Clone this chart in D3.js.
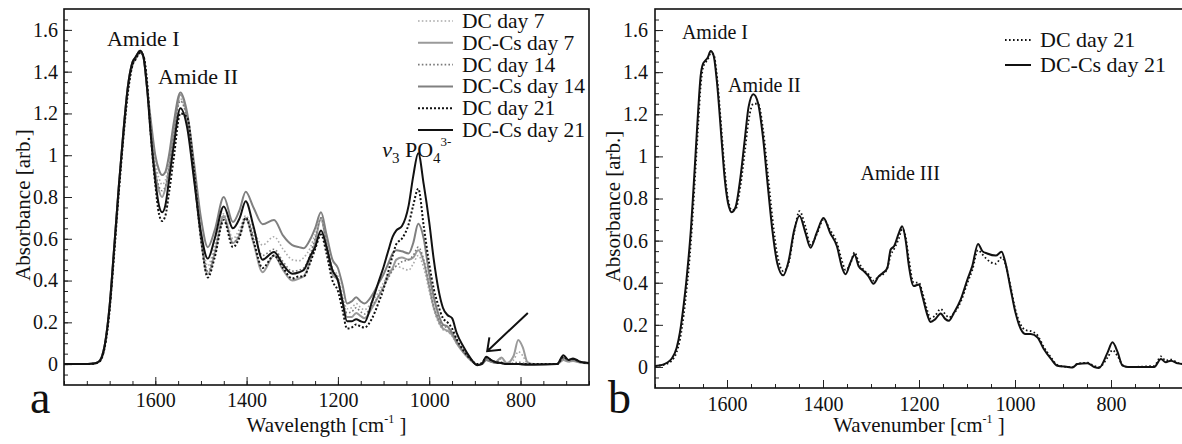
<!DOCTYPE html>
<html>
<head>
<meta charset="utf-8">
<script src="https://cdn.jsdelivr.net/npm/d3@7"></script>
<style>
  body { margin: 0; background: #fff; }
  svg text { font-family: "Liberation Serif", "Times New Roman", serif !important; }
</style>
</head>
<body>
<div id="vis"></div>
<script>
// ---- panel a: six spectra ----
const wavenumbersA = [1800, 1760, 1735, 1725, 1718, 1710, 1700, 1690, 1680, 1670, 1660, 1650, 1643, 1633, 1626, 1618,
  1610, 1600, 1592, 1585, 1578, 1570, 1560, 1545, 1530, 1515, 1500, 1485, 1470, 1450, 1430, 1415, 1402, 1385, 1365, 1340,
  1320, 1300, 1285, 1275, 1260, 1250, 1237, 1225, 1212, 1200, 1190, 1180, 1170, 1160, 1150, 1142, 1125, 1110, 1100, 1090,
  1080, 1072, 1060, 1045, 1035, 1024, 1012, 1000, 990, 980, 970, 960, 950, 940, 925, 910, 895, 885, 875, 865, 855, 842,
  830, 815, 805, 795, 785, 770, 720, 706, 695, 685, 670, 650];

const risingSolid = [0, 0, 0.003, 0.01, 0.03, 0.10, 0.28, 0.56, 0.85, 1.11, 1.33, 1.445, 1.47, 1.50, 1.47, 1.32];
const risingDotted = [0, 0, 0.002, 0.008, 0.025, 0.09, 0.26, 0.53, 0.82, 1.08, 1.30, 1.43, 1.46, 1.49, 1.475, 1.35];

const dcDay7 = risingDotted.concat([1.14, 0.97, 0.89, 0.86, 0.88, 0.97, 1.12, 1.27, 1.17, 0.91,
  0.63, 0.47, 0.57, 0.72, 0.60, 0.65, 0.71, 0.64, 0.57, 0.61, 0.55, 0.50, 0.495, 0.51, 0.56, 0.62, 0.69, 0.58, 0.46, 0.42,
  0.33, 0.265, 0.27, 0.29, 0.27, 0.26, 0.30, 0.35, 0.39, 0.43, 0.46, 0.47, 0.46, 0.45, 0.48, 0.52, 0.46, 0.35, 0.26, 0.20,
  0.165, 0.155, 0.135, 0.10, 0.055, 0.02, 0, 0, 0.02, 0.012, 0.008, 0.025, 0.005, 0.02, 0.06, 0.04, 0.005, 0, 0, 0.02,
  0.012, 0.015, 0.008, 0.003]);
const dcCsDay7 = risingSolid.concat([1.12, 0.92, 0.83, 0.80, 0.84, 0.93, 1.10, 1.29, 1.18, 0.90,
  0.60, 0.43, 0.53, 0.71, 0.58, 0.62, 0.70, 0.58, 0.44, 0.52, 0.45, 0.40, 0.41, 0.42, 0.50, 0.58, 0.70, 0.57, 0.43, 0.40,
  0.30, 0.225, 0.225, 0.245, 0.23, 0.22, 0.27, 0.33, 0.37, 0.42, 0.46, 0.50, 0.51, 0.50, 0.51, 0.545, 0.49, 0.37, 0.27, 0.21,
  0.17, 0.16, 0.14, 0.10, 0.055, 0.02, -0.003, 0, 0.02, 0.012, 0.01, 0.032, 0.005, 0.04, 0.115, 0.08, 0.01, 0, 0, 0.02,
  0.012, 0.015, 0.008, 0.003]);
const dcDay14 = risingDotted.concat([1.12, 0.93, 0.85, 0.83, 0.85, 0.94, 1.10, 1.26, 1.16, 0.89,
  0.61, 0.445, 0.54, 0.70, 0.58, 0.63, 0.70, 0.62, 0.52, 0.55, 0.49, 0.445, 0.45, 0.46, 0.53, 0.60, 0.70, 0.58, 0.45, 0.41,
  0.31, 0.245, 0.25, 0.27, 0.25, 0.24, 0.28, 0.33, 0.37, 0.41, 0.45, 0.47, 0.49, 0.50, 0.52, 0.56, 0.50, 0.38, 0.28, 0.22,
  0.18, 0.175, 0.15, 0.11, 0.06, 0.025, 0, 0, 0.02, 0.015, 0.01, 0.01, 0, 0.005, 0.01, 0.005, 0, 0, 0, 0.025,
  0.015, 0.02, 0.01, 0.005]);
const dcCsDay14 = risingSolid.concat([1.17, 1.00, 0.93, 0.905, 0.92, 1.00, 1.15, 1.30, 1.20, 0.96,
  0.70, 0.56, 0.64, 0.80, 0.68, 0.74, 0.825, 0.75, 0.67, 0.69, 0.615, 0.57, 0.56, 0.555, 0.60, 0.65, 0.727, 0.62, 0.50, 0.46,
  0.38, 0.29, 0.30, 0.32, 0.30, 0.29, 0.33, 0.39, 0.43, 0.48, 0.53, 0.545, 0.54, 0.53, 0.58, 0.672, 0.60, 0.43, 0.32, 0.24,
  0.19, 0.18, 0.15, 0.11, 0.06, 0.025, -0.003, 0, 0.02, 0.012, 0.005, 0.005, 0, 0, 0, 0, 0, 0, 0, 0.03,
  0.02, 0.02, 0.01, 0.005]);
const dcDay21 = risingDotted.concat([1.10, 0.86, 0.72, 0.685, 0.71, 0.82, 0.98, 1.20, 1.18, 0.92,
  0.60, 0.415, 0.51, 0.69, 0.56, 0.61, 0.70, 0.59, 0.46, 0.52, 0.46, 0.41, 0.42, 0.42, 0.49, 0.55, 0.62, 0.53, 0.40, 0.35,
  0.26, 0.17, 0.175, 0.19, 0.18, 0.175, 0.22, 0.30, 0.36, 0.44, 0.52, 0.575, 0.60, 0.67, 0.76, 0.84, 0.66, 0.48, 0.36, 0.28,
  0.22, 0.20, 0.17, 0.12, 0.065, 0.025, 0, 0.005, 0.03, 0.02, 0.01, 0.005, 0, 0, 0, 0, 0, 0, 0, 0.035,
  0.02, 0.025, 0.012, 0.005]);
const dcCsDay21 = risingSolid.concat([1.10, 0.88, 0.76, 0.727, 0.76, 0.88, 1.04, 1.225, 1.13, 0.88,
  0.63, 0.505, 0.60, 0.755, 0.65, 0.70, 0.78, 0.66, 0.50, 0.537, 0.475, 0.433, 0.44, 0.45, 0.52, 0.56, 0.64, 0.56, 0.45, 0.40,
  0.30, 0.205, 0.205, 0.215, 0.205, 0.20, 0.30, 0.40, 0.465, 0.54, 0.61, 0.64, 0.66, 0.76, 0.90, 1.01, 0.86, 0.68, 0.50, 0.36,
  0.27, 0.235, 0.22, 0.15, 0.083, 0.03, -0.005, 0, 0.035, 0.02, 0.01, 0.005, 0, 0, 0, -0.002, -0.003, -0.003, 0, 0.043,
  0.02, 0.027, 0.012, 0.005]);

// ---- panel b: day 21 only ----
const wavenumbersB = [1750, 1735, 1725, 1715, 1705, 1698, 1690, 1685, 1680, 1675, 1670, 1665, 1660, 1655, 1650, 1645,
  1640, 1634, 1628, 1620, 1612, 1605, 1598, 1590, 1582, 1572, 1563, 1555, 1545, 1535, 1525, 1515, 1505, 1495, 1483, 1472,
  1460, 1449, 1437, 1426, 1413, 1399, 1385, 1371, 1360, 1353, 1343, 1334, 1326, 1315, 1305, 1295, 1284, 1275, 1266, 1259,
  1252, 1242, 1235, 1228, 1221, 1211, 1200, 1193, 1183, 1176, 1166, 1155, 1145, 1138, 1127, 1113, 1099, 1089, 1077, 1068,
  1058, 1040, 1028, 1020, 1009, 999, 988, 978, 967, 953, 940, 925, 912, 890, 880, 870, 849, 835, 825, 807, 797, 786, 776,
  765, 710, 696, 686, 675, 661, 650];
const dcCsDay21B = [0.005, 0.01, 0.02, 0.04, 0.09, 0.165, 0.30, 0.40, 0.52, 0.66,
  0.84, 1.03, 1.22, 1.38, 1.44, 1.455, 1.47, 1.50, 1.48, 1.33,
  1.10, 0.90, 0.78, 0.735, 0.76, 0.90, 1.08, 1.235, 1.295, 1.25,
  1.09, 0.86, 0.64, 0.49, 0.435, 0.50, 0.65, 0.718, 0.64, 0.566,
  0.638, 0.707, 0.636, 0.573, 0.47, 0.44, 0.495, 0.534, 0.479, 0.455,
  0.43, 0.395, 0.43, 0.447, 0.47, 0.558, 0.573, 0.636, 0.668, 0.605,
  0.479, 0.384, 0.392, 0.337, 0.25, 0.214, 0.227, 0.254, 0.227, 0.219,
  0.258, 0.321, 0.416, 0.479, 0.584, 0.55, 0.539, 0.529, 0.547, 0.495,
  0.369, 0.258, 0.18, 0.156, 0.156, 0.14, 0.085, 0.038, 0.006, 0.0,
  -0.003, 0.014, 0.017, 0.0, -0.005, 0.069, 0.117, 0.069, 0.006, 0.0,
  0.0, 0.038, 0.022, 0.03, 0.017, 0.014];
const dcDay21B = [0.005, 0.008, 0.015, 0.03, 0.07, 0.13, 0.25, 0.35, 0.46, 0.60,
  0.77, 0.96, 1.15, 1.33, 1.42, 1.445, 1.46, 1.49, 1.485, 1.36,
  1.14, 0.94, 0.80, 0.745, 0.75, 0.86, 1.02, 1.17, 1.25, 1.25,
  1.13, 0.92, 0.70, 0.53, 0.455, 0.49, 0.64, 0.74, 0.67, 0.58,
  0.63, 0.70, 0.65, 0.59, 0.50, 0.46, 0.49, 0.545, 0.50, 0.46,
  0.44, 0.41, 0.43, 0.44, 0.47, 0.53, 0.56, 0.61, 0.655, 0.62,
  0.51, 0.40, 0.40, 0.355, 0.27, 0.23, 0.245, 0.275, 0.25, 0.235,
  0.255, 0.31, 0.40, 0.46, 0.555, 0.535, 0.51, 0.49, 0.52, 0.49,
  0.38, 0.27, 0.20, 0.175, 0.17, 0.15, 0.095, 0.045, 0.01, 0.0,
  0.0, 0.015, 0.02, 0.005, 0.0, 0.045, 0.08, 0.05, 0.01, 0.0,
  0.005, 0.05, 0.03, 0.035, 0.02, 0.015];

// ticks
const xTicks = [1600, 1400, 1200, 1000, 800];
const yTicks = [0, 0.2, 0.4, 0.6, 0.8, 1, 1.2, 1.4, 1.6];
const yTickLabels = ["0", "0.2", "0.4", "0.6", "0.8", "1", "1.2", "1.4", "1.6"];

const seriesA = [
  { name: "DC day 7", values: dcDay7, color: "#aaaaaa", dash: "1.6,2.2", width: 1.6 },
  { name: "DC-Cs day 7", values: dcCsDay7, color: "#9a9a9a", dash: null, width: 2 },
  { name: "DC day 14", values: dcDay14, color: "#7a7a7a", dash: "1.6,2.2", width: 1.6 },
  { name: "DC-Cs day 14", values: dcCsDay14, color: "#808080", dash: null, width: 2 },
  { name: "DC day 21", values: dcDay21, color: "#111111", dash: "2,2", width: 2 },
  { name: "DC-Cs day 21", values: dcCsDay21, color: "#111111", dash: null, width: 2 }
];
const seriesB = [
  { name: "DC day 21", values: dcDay21B, color: "#111111", dash: "1.6,2.4", width: 1.8 },
  { name: "DC-Cs day 21", values: dcCsDay21B, color: "#111111", dash: null, width: 2 }
];

const svg = d3.select("#vis").append("svg")
  .attr("width", 1182)
  .attr("height", 444)
  .attr("font-family", "Liberation Serif");

function drawPanel(p) {
  const x = d3.scaleLinear().domain(p.xDomain).range([p.left, p.right]);
  const y = d3.scaleLinear().domain([-0.1, 1.7]).range([p.bottom, p.top]);
  const g = svg.append("g");

  const xMinor = d3.range(p.xDomain[1], p.xDomain[0] + 1, 50);
  const yMinor = d3.range(-0.05, 1.7, 0.05);

  // minor ticks (inward)
  g.append("g").attr("transform", "translate(0," + p.bottom + ")")
    .call(d3.axisBottom(x).tickValues(xMinor).tickSize(-4).tickFormat(""))
    .call(a => a.select(".domain").remove());
  g.append("g").attr("transform", "translate(" + p.left + ",0)")
    .call(d3.axisLeft(y).tickValues(yMinor).tickSize(-4).tickFormat(""))
    .call(a => a.select(".domain").remove());

  // major ticks with labels
  g.append("g").attr("transform", "translate(0," + p.bottom + ")")
    .call(d3.axisBottom(x).tickValues(xTicks).tickSize(-8).tickPadding(p.xPad).tickFormat(d3.format("d")))
    .call(a => a.select(".domain").remove())
    .call(a => a.selectAll("text").attr("font-size", 20).attr("fill", "#111"));
  g.append("g").attr("transform", "translate(" + p.left + ",0)")
    .call(d3.axisLeft(y).tickValues(yTicks).tickSize(-8).tickPadding(p.yPad).tickFormat((d, i) => yTickLabels[i]))
    .call(a => a.select(".domain").remove())
    .call(a => a.selectAll("text").attr("font-size", 20).attr("fill", "#111"));
  g.selectAll(".tick line").attr("stroke", "#222");

  // spectra
  const clipId = "clip" + p.id;
  svg.append("clipPath").attr("id", clipId).append("rect")
    .attr("x", p.left).attr("y", p.top)
    .attr("width", p.right - p.left).attr("height", p.bottom - p.top);

  const line = d3.line()
    .x((d, i) => x(p.wavenumbers[i]))
    .y(d => y(d))
    .curve(d3.curveMonotoneX);

  g.append("g").attr("clip-path", "url(#" + clipId + ")")
    .selectAll("path")
    .data(p.series)
    .enter().append("path")
    .attr("d", d => line(d.values))
    .attr("fill", "none")
    .attr("stroke", d => d.color)
    .attr("stroke-width", d => d.width)
    .attr("stroke-dasharray", d => d.dash)
    .attr("stroke-linejoin", "round");

  // frame
  g.append("rect")
    .attr("x", p.left).attr("y", p.top)
    .attr("width", p.right - p.left).attr("height", p.bottom - p.top)
    .attr("fill", "none").attr("stroke", "#111").attr("stroke-width", 1.6);

  // legend
  const leg = g.append("g");
  p.series.forEach((s, i) => {
    const by = p.legend.y + i * p.legend.step;
    leg.append("line")
      .attr("x1", p.legend.x1).attr("x2", p.legend.x2)
      .attr("y1", by - 7).attr("y2", by - 7)
      .attr("stroke", s.color).attr("stroke-width", s.width)
      .attr("stroke-dasharray", s.dash);
    leg.append("text")
      .attr("x", p.legend.x2 + 9).attr("y", by)
      .attr("font-size", p.legend.size).attr("fill", "#111")
      .text(s.name);
  });

  // peak annotations
  p.notes.forEach(n => {
    g.append("text")
      .attr("x", x(n.w)).attr("y", y(n.a))
      .attr("font-size", n.size).attr("fill", "#111")
      .text(n.text);
  });

  // axis titles and panel letter
  const xt = g.append("text")
    .attr("x", (p.left + p.right) / 2).attr("y", 432)
    .attr("text-anchor", "middle").attr("font-size", 21).attr("fill", "#111");
  xt.append("tspan").text(p.xTitle + " [cm");
  xt.append("tspan").attr("font-size", 12).attr("dy", -9).text("-1");
  xt.append("tspan").attr("dy", 9).text(" ]");

  g.append("text")
    .attr("transform", "translate(" + p.yTitleX + "," + ((p.top + p.bottom) / 2 + 8) + ") rotate(-90)")
    .attr("text-anchor", "middle").attr("font-size", 21).attr("fill", "#111")
    .text("Absorbance [arb.]");

  g.append("text")
    .attr("x", p.letterX).attr("y", 413)
    .attr("font-size", 46).attr("fill", "#111")
    .text(p.letter);

  return { x: x, y: y, g: g };
}

const panelA = drawPanel({
  id: "a", left: 64, right: 589, top: 9, bottom: 385,
  xDomain: [1800, 650], wavenumbers: wavenumbersA, series: seriesA,
  xPad: 8, yPad: 6, xTitle: "Wavelength", yTitleX: 30, letter: "a", letterX: 30,
  legend: { x1: 418, x2: 453, y: 28, step: 21.8, size: 21.5 },
  notes: [
    { text: "Amide I", w: 1706, a: 1.523, size: 22 },
    { text: "Amide II", w: 1594, a: 1.342, size: 22 }
  ]
});

// v3 PO4 3- label with sub/superscripts
const po4 = panelA.g.append("text")
  .attr("x", panelA.x(1103)).attr("y", panelA.y(0.99))
  .attr("font-size", 22).attr("fill", "#111");
po4.append("tspan").attr("font-style", "italic").text("ν");
po4.append("tspan").attr("font-size", 15).attr("dy", 6).text("3");
po4.append("tspan").attr("dy", -6).text(" PO");
po4.append("tspan").attr("font-size", 15).attr("dy", 6).text("4");
po4.append("tspan").attr("font-size", 13).attr("dy", -17).text("3-");

// arrow pointing at the small band near 870
const arrowFrom = [784, 0.245], arrowTo = [873, 0.062];
const ax0 = panelA.x(arrowFrom[0]), ay0 = panelA.y(arrowFrom[1]);
const ax1 = panelA.x(arrowTo[0]), ay1 = panelA.y(arrowTo[1]);
const ang = Math.atan2(ay0 - ay1, ax0 - ax1);
const barb = 14, spread = 0.66;
panelA.g.append("path")
  .attr("d", "M" + ax0 + "," + ay0 + "L" + ax1 + "," + ay1 +
    "M" + (ax1 + barb * Math.cos(ang + spread)) + "," + (ay1 + barb * Math.sin(ang + spread)) +
    "L" + ax1 + "," + ay1 +
    "L" + (ax1 + barb * Math.cos(ang - spread)) + "," + (ay1 + barb * Math.sin(ang - spread)))
  .attr("fill", "none").attr("stroke", "#111").attr("stroke-width", 2);

drawPanel({
  id: "b", left: 655, right: 1183, top: 9, bottom: 388,
  xDomain: [1750, 650], wavenumbers: wavenumbersB, series: seriesB,
  xPad: 9, yPad: 7, xTitle: "Wavenumber", yTitleX: 620, letter: "b", letterX: 608,
  legend: { x1: 1005, x2: 1031, y: 47, step: 25, size: 22 },
  notes: [
    { text: "Amide I", w: 1694, a: 1.557, size: 20 },
    { text: "Amide II", w: 1598, a: 1.306, size: 20 },
    { text: "Amide III", w: 1322, a: 0.888, size: 20 }
  ]
});
</script>
</body>
</html>
